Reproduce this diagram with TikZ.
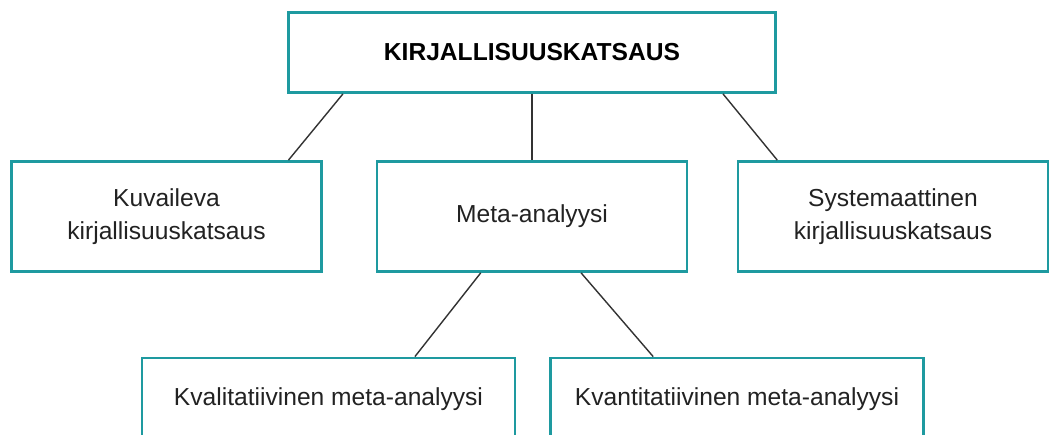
\documentclass[tikz,border=0pt]{standalone}
\usepackage{fontspec}
\setmainfont{Liberation Sans}
\usepackage{tikz}
\usetikzlibrary{calc}
\definecolor{boxteal}{HTML}{1E9AA0}
\definecolor{linegray}{HTML}{333333}
\definecolor{textgray}{HTML}{222222}

\begin{document}
\begin{tikzpicture}[
		box/.style={
			draw=boxteal, line width=1.6pt, fill=white,
			text=textgray, align=center,
			font=\fontsize{14}{19}\selectfont,
			inner sep=0pt},
		link/.style={draw=linegray, line width=0.8pt}
	]
	\useasboundingbox (0,0) rectangle (21,8.68);
	
	\node[box, minimum width=9.74cm, minimum height=1.6cm, text=black,
		font=\fontsize{14}{19}\selectfont\bfseries]
		(top) at (10.64,7.63) {KIRJALLISUUSKATSAUS};
	
	\node[box, minimum width=6.2cm, minimum height=2.2cm]
		(desc) at (3.33,4.35) {Kuvaileva\\kirjallisuuskatsaus};
	\node[box, minimum width=6.2cm, minimum height=2.2cm]
		(meta) at (10.64,4.35) {Meta-analyysi};
	\node[box, minimum width=6.2cm, minimum height=2.2cm]
		(syst) at (17.86,4.35) {Systemaattinen\\kirjallisuuskatsaus};
	
	\node[box, minimum width=7.46cm, minimum height=1.64cm]
		(qual) at (6.57,0.7) {Kvalitatiivinen meta-analyysi};
	\node[box, minimum width=7.46cm, minimum height=1.64cm]
		(quan) at (14.74,0.7) {Kvantitatiivinen meta-analyysi};
	
	% connectors
	\draw[link] ($(top.south west)!0.114!(top.south east)$)
		-- ($(desc.north west)!0.89!(desc.north east)$);
	\draw[link] (top.south) -- (meta.north);
	\draw[link] ($(top.south west)!0.89!(top.south east)$)
		-- ($(syst.north west)!0.13!(syst.north east)$);
	\draw[link] ($(meta.south west)!0.336!(meta.south east)$)
		-- ($(qual.north west)!0.73!(qual.north east)$);
	\draw[link] ($(meta.south west)!0.657!(meta.south east)$)
		-- ($(quan.north west)!0.277!(quan.north east)$);
\end{tikzpicture}
\end{document}
